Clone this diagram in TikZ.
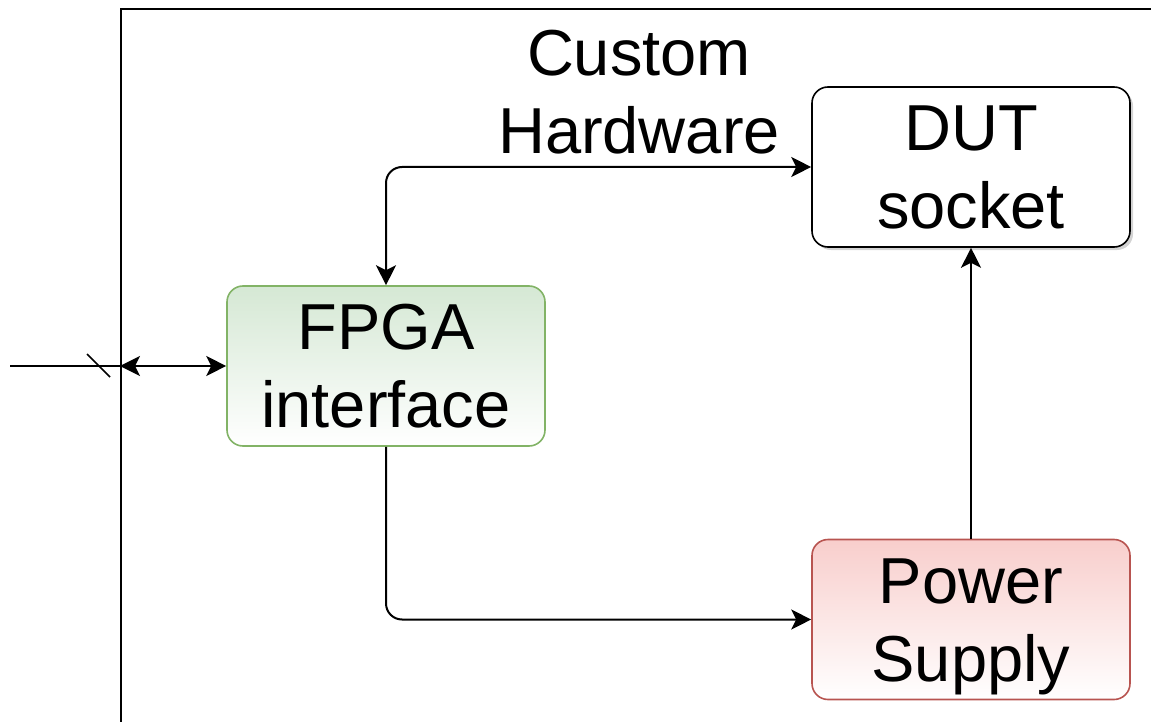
\documentclass[tikz,border=0pt]{standalone}
\usepackage{fontspec}
\setmainfont{Liberation Sans}
\usetikzlibrary{arrows.meta,shadows,calc}
% fixed line box so that every label line is centred the same way
\newcommand{\lnbox}{\rule[-16.5pt]{0pt}{78pt}}
\definecolor{fpgafill}{HTML}{D5E8D4}
\definecolor{fpgaline}{HTML}{82B366}
\definecolor{psufill}{HTML}{F8CECC}
\definecolor{psuline}{HTML}{B85450}
\begin{document}
\begin{tikzpicture}[x=1pt,y=-1pt,
  >={Stealth[length=20pt,width=20pt,inset=5pt]},
  lbl/.style={align=center,inner sep=0pt,font=\fontsize{65}{78}\selectfont},
  block/.style={lbl,rounded corners=16pt,minimum width=318pt,minimum height=160pt,line width=1.6pt},
  conn/.style={line width=2pt,rounded corners=16pt}]
  \useasboundingbox (0,0) rectangle (1151,722);
  \clip (0,0) rectangle (1151,722);

  % enclosing board
  \node[draw,line width=2pt,minimum width=1040pt,minimum height=800pt,
        anchor=north west,inner sep=0pt] (hw) at (120,8) {};
  \node[lbl,anchor=north] (title) at (639,13.5) {\lnbox Custom\\\lnbox Hardware};

  % blocks
  \node[block,draw=black,fill=white,
        drop shadow={shadow xshift=3pt,shadow yshift=-3pt,opacity=0.35,fill=gray}]
        (dut) at (971,167) {\lnbox DUT\\\lnbox socket};
  \node[block,draw=fpgaline,top color=fpgafill,bottom color=white]
        (fpga) at (386,366) {\lnbox FPGA\\\lnbox interface};
  \node[block,draw=psuline,top color=psufill,bottom color=white]
        (psu) at (971,619.5) {\lnbox Power\\\lnbox Supply};

  % external bus entering the board
  \coordinate (ext) at (10,366);
  \coordinate (port) at (hw.west |- fpga.west);
  \draw[line width=2pt] (ext) -- (port);
  \draw[line width=1.5pt] ($(port)+(-33,-12)$) -- ($(port)+(-10,11)$);

  % connections
  \draw[conn,<->] (port) -- (fpga.west);
  \draw[conn,<->] (fpga.north) |- (dut.west);
  \draw[conn,->] (fpga.south) |- (psu.west);
  \draw[conn,->] (psu.north) -- (dut.south);
\end{tikzpicture}
\end{document}
